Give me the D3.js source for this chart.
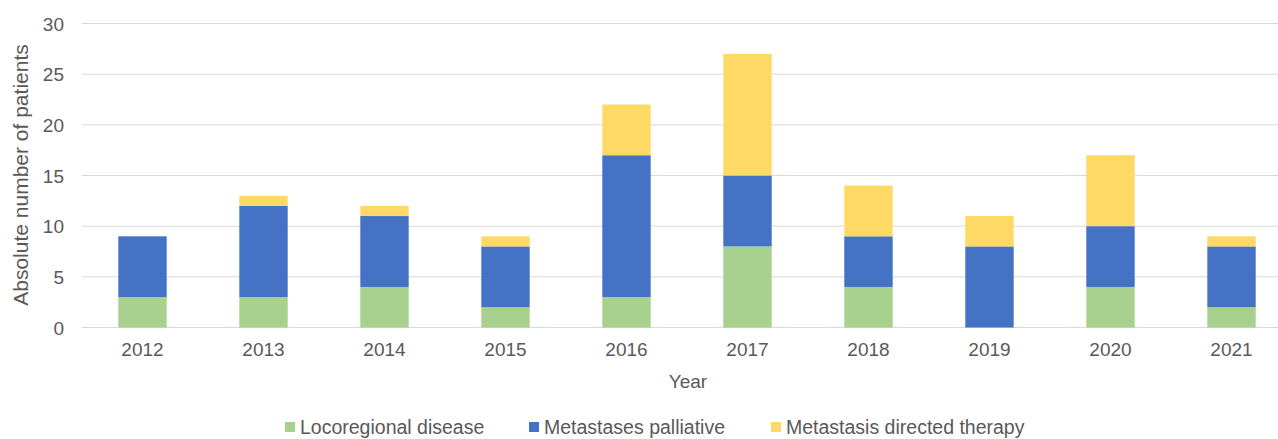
<!DOCTYPE html>
<html>
<head>
<meta charset="utf-8">
<script src="https://cdn.jsdelivr.net/npm/d3@7"></script>
<style>
  body { margin: 0; background: #fff; }
  svg { display: block; font-family: "Liberation Sans", Arial, sans-serif; }
</style>
</head>
<body>
<svg id="chart"></svg>
<script>
var years = ["2012", "2013", "2014", "2015", "2016", "2017", "2018", "2019", "2020", "2021"];
var locoregional = [3, 3, 4, 2, 3, 8, 4, 0, 4, 2];
var palliative = [6, 9, 7, 6, 14, 7, 5, 8, 6, 6];
var directed = [0, 1, 1, 1, 5, 12, 5, 3, 7, 1];
var seriesNames = ["Locoregional disease", "Metastases palliative", "Metastasis directed therapy"];
var seriesColors = ["#A9D18E", "#4472C4", "#FFD966"];
var yTicks = [0, 5, 10, 15, 20, 25, 30];

var width = 1278, height = 439;
var margin = {top: 23.5, left: 82, bottom: 111.5};
var plotRight = 1292;
var textColor = "#595959";

var svg = d3.select("#chart").attr("width", width).attr("height", height);

var rows = years.map(function(y, i){
    return {year: y, loco: locoregional[i], pall: palliative[i], dir: directed[i]};
});
var stack = d3.stack().keys(["loco", "pall", "dir"]);
var layers = stack(rows);

var x = d3.scaleBand().domain(years).range([margin.left, plotRight]).paddingInner(0.6).paddingOuter(0.3);
var y = d3.scaleLinear().domain([0, 30]).range([height - margin.bottom, margin.top]);

// gridlines
svg.append("g")
    .selectAll("line")
    .data(yTicks)
    .enter()
    .append("line")
    .attr("x1", margin.left)
    .attr("x2", plotRight)
    .attr("y1", function(d){ return y(d) })
    .attr("y2", function(d){ return y(d) })
    .style("stroke", "#D9D9D9")
    .style("stroke-width", 1);

// bars
svg.append("g")
    .selectAll("g")
    .data(layers)
    .enter()
    .append("g")
    .style("fill", function(d, i){ return seriesColors[i] })
    .selectAll("rect")
    .data(function(d){ return d })
    .enter()
    .append("rect")
    .attr("x", function(d){ return x(d.data.year) })
    .attr("width", x.bandwidth())
    .attr("y", function(d){ return y(d[1]) })
    .attr("height", function(d){ return y(d[0]) - y(d[1]) });

// y axis
var yAxis = svg.append("g")
    .attr("transform", `translate(${margin.left - 18} 0)`)
    .call(d3.axisLeft(y).tickValues(yTicks).tickSize(0).tickPadding(0));
yAxis.select(".domain").remove();
yAxis.selectAll("text")
    .style("font-size", "19px")
    .style("fill", textColor)
    .attr("dy", "0.35em");

// x axis
var xAxis = svg.append("g")
    .attr("transform", `translate(0 ${y(0)})`)
    .call(d3.axisBottom(x).tickSize(0).tickPadding(15));
xAxis.select(".domain").remove();
xAxis.selectAll("text")
    .style("font-size", "19px")
    .style("fill", textColor);

// axis titles
svg.append("text")
    .attr("x", 688)
    .attr("y", 388)
    .attr("text-anchor", "middle")
    .style("font-size", "19px")
    .style("fill", textColor)
    .text("Year");

svg.append("text")
    .attr("transform", "translate(28 175) rotate(-90)")
    .attr("text-anchor", "middle")
    .style("font-size", "21px")
    .style("fill", textColor)
    .text("Absolute number of patients");

// legend
var legendX = [285, 529, 771];
var legend = svg.append("g")
    .selectAll("g")
    .data(seriesNames)
    .enter()
    .append("g")
    .attr("transform", function(d, i){ return `translate(${legendX[i]} 427)` });
legend.append("rect")
    .attr("x", 0)
    .attr("y", -5)
    .attr("width", 10)
    .attr("height", 10)
    .style("fill", function(d, i){ return seriesColors[i] });
legend.append("text")
    .attr("x", 15)
    .attr("y", 0)
    .attr("dy", "0.35em")
    .style("font-size", "19.5px")
    .style("fill", textColor)
    .text(function(d){ return d });
</script>
</body>
</html>
